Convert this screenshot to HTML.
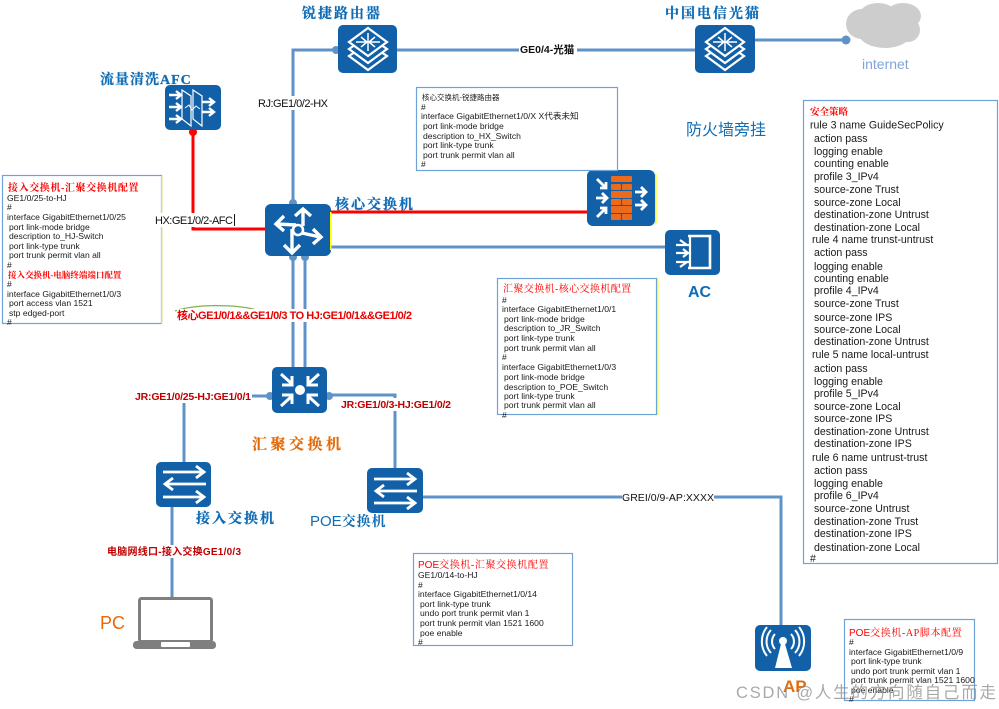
<!DOCTYPE html>
<html><head><meta charset="utf-8"><style>
html,body{margin:0;padding:0;background:#fff;width:999px;height:709px;overflow:hidden}
svg{display:block}
text{font-family:"Liberation Sans","Noto Sans CJK SC",sans-serif}
.c{font-size:8.6px;fill:#1a1a1a}
.r{font-size:10.6px;fill:#1a1a1a}
.h{font-family:"Liberation Serif","Noto Serif CJK SC",serif;font-weight:700;fill:#0f6cb5;font-size:14px;letter-spacing:2px;stroke:#0f6cb5;stroke-width:.25px}
.t{font-family:"Liberation Serif","Noto Serif CJK SC",serif;font-weight:700;fill:#f00}
.l{font-size:11px;fill:#111}
.d{font-size:10px;font-weight:700;fill:#c00000}
.ln{fill:none;stroke:#5f93c8;stroke-width:3}
.w{fill:none;stroke:#fff;stroke-width:2.8}
.box{fill:#fff;stroke:#6fa3d8;stroke-width:1.2}
</style></head><body>
<svg width="999" height="709" viewBox="0 0 999 709" xmlns="http://www.w3.org/2000/svg">
<!-- cloud -->
<g fill="#cdcdcd"><ellipse cx="862" cy="24" rx="16" ry="15"/><ellipse cx="878" cy="14" rx="18" ry="11"/><ellipse cx="903" cy="16" rx="18" ry="13"/><ellipse cx="908" cy="30" rx="12" ry="12"/><ellipse cx="885" cy="32" rx="27" ry="16"/></g>
<!-- connectors -->
<path class="ln" d="M338 50H293V204"/>
<path class="ln" d="M397 50H695"/>
<path class="ln" d="M755 40H846"/>
<circle cx="846" cy="40" r="4.5" fill="#5f93c8"/>
<circle cx="336" cy="50" r="4" fill="#5f93c8"/>
<path class="ln" d="M331 247H665"/>
<path class="ln" d="M293 256V367M305 256V367"/>
<circle cx="293" cy="257" r="4" fill="#5f93c8"/><circle cx="305" cy="257" r="4" fill="#5f93c8"/><circle cx="293" cy="203" r="4" fill="#5f93c8"/>
<path class="ln" d="M272 396H184V462"/>
<path class="ln" d="M327 395H395V468"/>
<circle cx="270" cy="396" r="4" fill="#5f93c8"/><circle cx="329" cy="396" r="4" fill="#5f93c8"/>
<path class="ln" d="M172 507V597"/>
<path class="ln" d="M423 497H781V625"/>
<path d="M193 130V229H265" fill="none" stroke="#f00" stroke-width="3"/>
<path d="M331 212H587" fill="none" stroke="#f00" stroke-width="3"/>
<circle cx="193" cy="132" r="4" fill="#f00"/>
<path d="M175 311C195 304 235 304 257 310" fill="none" stroke="#7fb24a" stroke-width="1.2"/>

<!-- router -->
<rect x="338" y="25" width="59" height="48" rx="5" fill="#1160a8"/>
<g fill="#1160a8" stroke="#fff" stroke-width="2.2"><polygon points="368,43 387,56 368,70 349,56"/><polygon points="368,36 387,49 368,63 349,49"/><polygon points="368,28 387,42 368,56 349,42"/></g>
<path d="M356 42H380M368 33V51M361 37l6 5-6 5M375 37l-6 5 6 5" fill="none" stroke="#fff" stroke-width="1.5"/>
<!-- telecom -->
<rect x="695" y="25" width="60" height="48" rx="5" fill="#1160a8"/>
<g fill="#1160a8" stroke="#fff" stroke-width="2.2"><polygon points="725,43 744,56 725,70 706,56"/><polygon points="725,36 744,49 725,63 706,49"/><polygon points="725,28 744,42 725,56 706,42"/></g>
<path d="M713 42H737M725 33V51M718 37l6 5-6 5M732 37l-6 5 6 5" fill="none" stroke="#fff" stroke-width="1.5"/>
<!-- AFC -->
<rect x="165" y="85" width="56" height="45" rx="5" fill="#1160a8"/>
<path class="w" style="stroke-width:2.4" d="M169 95H180M176 91l5 4-5 4M169 107H180M176 103l5 4-5 4M169 119H180M176 115l5 4-5 4M202 102H213M209 98l5 4-5 4M202 112H213M209 108l5 4-5 4"/>
<path d="M182 90l9 6v30l-9-7zM193 90l9 6v30l-9-7z" fill="none" stroke="#fff" stroke-width="1.2"/>
<path d="M185 108l4-3 3 5 4-4 4 3" fill="none" stroke="#fff" stroke-width="1"/>
<!-- core -->
<rect x="265" y="204" width="66" height="52" rx="6" fill="#1160a8"/>
<rect x="330" y="212" width="1.5" height="38" fill="#ff0"/>
<circle cx="298" cy="230" r="5" fill="none" stroke="#fff" stroke-width="2.6"/>
<path class="w" style="stroke-width:3.4" d="M303 226V210M295 216l8-7 8 7M296 225L277 224M284 216l-8 8 8 7M302 233L320 237M313 229l8 8-8 7M292 229V252M284 245l8 8 8-8"/>
<!-- firewall -->
<rect x="587" y="170" width="68" height="56" rx="6" fill="#1160a8"/>
<rect x="655" y="174" width="1.6" height="50" fill="#ff0"/>
<g fill="#ec6a1c"><rect x="611" y="176" width="21" height="6" rx="1"/><rect x="611" y="184" width="10" height="6" rx="1"/><rect x="622" y="184" width="10" height="6" rx="1"/><rect x="611" y="191" width="21" height="7" rx="1"/><rect x="611" y="199" width="10" height="6" rx="1"/><rect x="622" y="199" width="10" height="6" rx="1"/><rect x="611" y="206" width="21" height="7" rx="1"/><rect x="611" y="214" width="10" height="6" rx="1"/><rect x="622" y="214" width="10" height="6" rx="1"/></g>
<path class="w" d="M597 179l9 9M600 188h6v-6M596 198h11M602 193l5 5-5 5M597 217l9-9M600 208h6v6M635 192h11M641 187l5 5-5 5M635 205h11M641 200l5 5-5 5"/>
<!-- AC -->
<rect x="665" y="230" width="55" height="45" rx="5" fill="#1160a8"/>
<path d="M688 236H710V268H688" fill="none" stroke="#fff" stroke-width="2.6"/>
<path d="M690 236V268" fill="none" stroke="#fff" stroke-width="2.2"/>
<path class="w" style="stroke-width:2.2" d="M676 245H690M680 240l7 5M676 253H690M683 249l5 4-5 4M676 262H690M680 267l7-5"/>
<!-- aggregation -->
<rect x="272" y="367" width="55" height="46" rx="5" fill="#1160a8"/>
<circle cx="300" cy="390" r="5" fill="#fff"/>
<path class="w" style="stroke-width:3" d="M281 374l11 10M282 385h10v-9M319 374l-11 10M318 385h-10v-9M281 406l11-10M282 395h10v9M319 406l-11-10M318 395h-10v9"/>
<!-- access switch -->
<rect x="156" y="462" width="55" height="45" rx="5" fill="#1160a8"/>
<path class="w" d="M163 472H204M196 466l8 6-8 6M206 484H165M173 478l-8 6 8 6M163 497H204M196 491l8 6-8 6"/>
<!-- POE switch -->
<rect x="367" y="468" width="56" height="45" rx="5" fill="#1160a8"/>
<path class="w" d="M374 479H415M407 473l8 6-8 6M417 491H376M384 485l-8 6 8 6M374 503H415M407 497l8 6-8 6"/>
<!-- AP -->
<rect x="755" y="625" width="56" height="46" rx="5" fill="#1160a8"/>
<circle cx="783" cy="641" r="4" fill="#fff"/>
<polygon points="781,644 785,644 792,668 775,668" fill="#fff"/>
<path d="M775 634a11 11 0 0 0 0 15M771 630a17 17 0 0 0 0 23M767 627a23 23 0 0 0 0 29M791 634a11 11 0 0 1 0 15M795 630a17 17 0 0 1 0 23M799 627a23 23 0 0 1 0 29" fill="none" stroke="#fff" stroke-width="2"/>
<!-- PC -->
<rect x="139.5" y="598.5" width="72" height="43" rx="2" fill="#fff" stroke="#7f7f7f" stroke-width="3"/>
<rect x="133" y="641" width="83" height="8" rx="3.5" fill="#7f7f7f"/>
<rect x="161" y="642" width="29" height="5" rx="1" fill="#fff"/>

<!-- left config -->
<rect x="2.5" y="175.5" width="159" height="148" class="box"/>
<rect x="161" y="176" width="1.3" height="148" fill="#dfe04a"/>
<text x="8" y="191" class="t" font-size="10" letter-spacing="0.6">接入交换机-汇聚交换机配置</text>
<g class="c"><text x="7" y="201">GE1/0/25-to-HJ</text><text x="7" y="210">#</text><text x="7" y="220">interface GigabitEthernet1/0/25</text><text x="9" y="230">port link-mode bridge</text><text x="9" y="239">description to_HJ-Switch</text><text x="9" y="249">port link-type trunk</text><text x="9" y="258">port trunk permit vlan all</text><text x="7" y="268">#</text></g>
<text x="8" y="278" class="t" font-size="8.5">接入交换机-电脑终端端口配置</text>
<g class="c"><text x="7" y="287">#</text><text x="7" y="297">interface GigabitEthernet1/0/3</text><text x="9" y="306">port access vlan 1521</text><text x="9" y="316">stp edged-port</text><text x="7" y="325">#</text></g>

<!-- top config -->
<rect x="416.5" y="87.5" width="201" height="83" class="box"/>
<text x="422" y="100" font-size="7.5" font-family="Liberation Serif,Noto Serif CJK SC,serif" fill="#222">核心交换机-锐捷路由器</text>
<g class="c"><text x="421" y="110">#</text><text x="421" y="119">interface GigabitEthernet1/0/X  X代表未知</text><text x="423" y="129">port link-mode bridge</text><text x="423" y="139">description to_HX_Switch</text><text x="423" y="148">port link-type trunk</text><text x="423" y="158">port trunk permit vlan all</text><text x="421" y="167">#</text></g>

<!-- middle config -->
<rect x="497.5" y="278.5" width="159" height="136" class="box"/>
<rect x="657" y="278" width="1.4" height="137" fill="#ff0"/>
<text x="503" y="292" class="t" font-size="10" letter-spacing="0.4" style="font-weight:400">汇聚交换机-核心交换机配置</text>
<g class="c"><text x="502" y="303">#</text><text x="502" y="312">interface GigabitEthernet1/0/1</text><text x="504" y="322">port link-mode bridge</text><text x="504" y="331">description to_JR_Switch</text><text x="504" y="341">port link-type trunk</text><text x="504" y="351">port trunk permit vlan all</text><text x="502" y="360">#</text><text x="502" y="370">interface GigabitEthernet1/0/3</text><text x="504" y="380">port link-mode bridge</text><text x="504" y="390">description to_POE_Switch</text><text x="504" y="399">port link-type trunk</text><text x="504" y="408">port trunk permit vlan all</text><text x="502" y="418">#</text></g>

<!-- right config -->
<rect x="803.5" y="100.5" width="194" height="463" class="box"/>
<text x="810" y="115" class="t" font-size="9.5">安全策略</text>
<g class="r">
<text x="810" y="128.500">rule 3 name GuideSecPolicy</text>
<text x="814" y="142">action pass</text><text x="814" y="155">logging enable</text><text x="814" y="167">counting enable</text><text x="814" y="180">profile 3_IPv4</text><text x="814" y="193">source-zone Trust</text><text x="814" y="206">source-zone Local</text><text x="814" y="218">destination-zone Untrust</text><text x="814" y="231">destination-zone Local</text>
<text x="812" y="243">rule 4 name trunst-untrust</text>
<text x="814" y="256">action pass</text><text x="814" y="270">logging enable</text><text x="814" y="282">counting enable</text><text x="814" y="294">profile 4_IPv4</text><text x="814" y="307">source-zone Trust</text><text x="814" y="321">source-zone IPS</text><text x="814" y="333">source-zone Local</text><text x="814" y="345">destination-zone Untrust</text>
<text x="812" y="358">rule 5 name local-untrust</text>
<text x="814" y="372">action pass</text><text x="814" y="385">logging enable</text><text x="814" y="397">profile 5_IPv4</text><text x="814" y="410">source-zone Local</text><text x="814" y="422">source-zone IPS</text><text x="814" y="435">destination-zone Untrust</text><text x="814" y="447">destination-zone IPS</text>
<text x="812" y="461">rule 6 name untrust-trust</text>
<text x="814" y="474">action pass</text><text x="814" y="487">logging enable</text><text x="814" y="499">profile 6_IPv4</text><text x="814" y="512">source-zone Untrust</text><text x="814" y="525">destination-zone Trust</text><text x="814" y="537">destination-zone IPS</text><text x="814" y="551">destination-zone Local</text><text x="810" y="562">#</text></g>

<!-- POE config -->
<rect x="413.500" y="553.500" width="159" height="92" class="box"/>
<text x="418" y="568" font-size="10" fill="#f00">POE<tspan font-family="Liberation Serif,Noto Serif CJK SC,serif" letter-spacing="0.6">交换机-汇聚交换机配置</tspan></text>
<g class="c"><text x="418" y="578">GE1/0/14-to-HJ</text><text x="418" y="588">#</text><text x="418" y="597">interface GigabitEthernet1/0/14</text><text x="420" y="607">port link-type trunk</text><text x="420" y="616">undo port trunk permit vlan 1</text><text x="420" y="626">port trunk permit vlan 1521 1600</text><text x="420" y="636">poe enable</text><text x="418" y="645">#</text></g>

<!-- AP config -->
<rect x="844.500" y="619.500" width="130" height="81" class="box"/>
<text x="849" y="636" font-size="10" fill="#f00">POE<tspan font-family="Liberation Serif,Noto Serif CJK SC,serif" letter-spacing="0.6">交换机-AP脚本配置</tspan></text>
<g class="c"><text x="849" y="645">#</text><text x="849" y="655">interface GigabitEthernet1/0/9</text><text x="851" y="664">port link-type trunk</text><text x="851" y="674">undo port trunk permit vlan 1</text><text x="851" y="683">port trunk permit vlan 1521 1600</text><text x="851" y="693">poe enable</text><text x="849" y="702">#</text></g>

<!-- headings -->
<text x="302" y="18" class="h">锐捷路由器</text>
<text x="665" y="18" class="h">中国电信光猫</text>
<text x="100" y="84" class="h" style="letter-spacing:1px">流量清洗AFC</text>
<text x="335" y="209" class="h">核心交换机</text>
<text x="196" y="523" class="h">接入交换机</text>
<text x="310" y="526" font-size="15" fill="#0f6cb5">POE<tspan font-family="Liberation Serif,Noto Serif CJK SC,serif" font-weight="700" font-size="14" letter-spacing="1">交换机</tspan></text>
<text x="252" y="449" class="h" style="fill:#e36c0a;stroke:#e36c0a;font-size:15px;letter-spacing:3.500px">汇聚交换机</text>
<text x="100" y="629" font-size="18" fill="#e9680e">PC</text>
<text x="688" y="297" font-size="16" font-weight="700" fill="#0f6cb5">AC</text>
<text x="783" y="692" font-size="17" font-weight="700" fill="#e36c0a">AP</text>
<text x="686" y="135" font-size="16" fill="#0f6cb5">防火墙旁挂</text>
<text x="862" y="69" font-size="14" fill="#7fa6d6">internet</text>

<!-- connector labels -->
<rect x="519" y="43" width="58" height="12" fill="#fff"/>
<text x="520" y="53" font-size="10.500" font-weight="700" fill="#111">GE0/4-光猫</text>
<rect x="258" y="96" width="70" height="14" fill="#fff"/>
<text x="258" y="107" class="l" textLength="70">RJ:GE1/0/2-HX</text>
<rect x="155" y="213" width="80" height="14" fill="#fff"/>
<text x="155" y="224" class="l" textLength="78">HX:GE1/0/2-AFC</text>
<rect x="234" y="214" width="1" height="12" fill="#111"/>
<rect x="177" y="309" width="235" height="13" fill="#fff"/>
<text x="177" y="319" font-size="11" font-weight="700" fill="#e80000" textLength="235">核心GE1/0/1&amp;&amp;GE1/0/3 TO HJ:GE1/0/1&amp;&amp;GE1/0/2</text>
<rect x="135" y="390" width="117" height="13" fill="#fff"/>
<text x="135" y="400" font-size="10.500" font-weight="700" fill="#c00000" textLength="116">JR:GE1/0/25-HJ:GE1/0/1</text>
<rect x="341" y="398" width="110" height="13" fill="#fff"/>
<text x="341" y="408" font-size="10.500" font-weight="700" fill="#c00000" textLength="110">JR:GE1/0/3-HJ:GE1/0/2</text>
<rect x="107" y="545" width="134" height="13" fill="#fff"/>
<text x="107" y="555" class="d" textLength="134">电脑网线口-接入交换GE1/0/3</text>
<rect x="622" y="491" width="92" height="12" fill="#fff"/>
<text x="622" y="501" font-size="10.500" fill="#111" textLength="92">GREI/0/9-AP:XXXX</text>

<!-- watermark -->
<text x="736" y="698" font-size="16.500" fill="#8c8c8c" fill-opacity=".75" textLength="260">CSDN @人生的方向随自己而走</text>
</svg>
</body></html>
